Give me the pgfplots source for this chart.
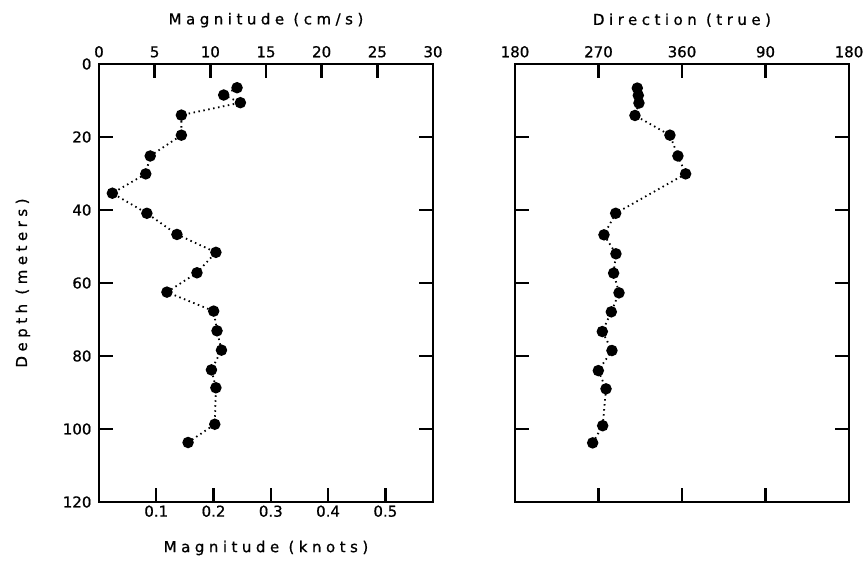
\documentclass[border=0pt]{standalone}
\usepackage{pgfplots}
\pgfplotsset{compat=1.18}
\usepackage{fontspec}
\setmainfont{DejaVu Sans}
\newfontfamily\labelfont{DejaVu Sans}[LetterSpace=30, FakeBold=0.8]
\newfontfamily\numfont{DejaVu Sans}[FakeBold=0.8]

% Current profile: depth (m) against speed (cm/s) and direction (deg true)
\pgfplotstableread{
depth  speed
6.5    12.4
8.5    11.2
10.6   12.7
14.0   7.4
19.5   7.4
25.2   4.6
30.1   4.2
35.4   1.2
40.9   4.3
46.7   7.0
51.6   10.5
57.2   8.8
62.5   6.1
67.7   10.3
73.1   10.6
78.4   11.0
83.8   10.1
88.7   10.5
98.7   10.4
103.7  8.0
}\speedtab

% direction beyond 360 is written as 360+deg so the profile stays continuous
\pgfplotstableread{
depth  dir
6.6    311.8
8.6    312.9
10.7   313.6
14.1   309.3
19.5   347.0
25.2   355.6
30.1   363.9
40.9   288.5
46.8   275.9
52.0   288.8
57.3   286.3
62.7   292.1
67.9   283.8
73.3   274.1
78.5   284.5
84.0   269.8
89.0   278.1
99.1   274.5
103.8  263.7
}\dirtab

\tikzset{heading/.style={font=\fontsize{15}{18}\selectfont\labelfont, anchor=center}}

\pgfplotsset{
  profile/.style={
    scale only axis, width=334pt, height=438pt,
    clip=false,
    ymin=0, ymax=120, y dir=reverse,
    ytick={0,20,...,120},
    tick align=inside,
    major tick length=14pt,
    axis line style={line width=2.8pt},
    every tick/.style={line width=2.4pt, black},
    /pgf/number format/assume math mode=true,
    tick label style={font=\fontsize{15}{18}\selectfont\numfont},
    yticklabel style={xshift=-4pt},
    label style={font=\fontsize{15}{18}\selectfont\labelfont},
  },
  obs/.style={
    black, line width=1.8pt, dash pattern=on 1.5pt off 3.5pt,
    mark=*, mark size=4.8pt, mark options={solid, fill=black},
  },
}

\begin{document}
\begin{tikzpicture}
\useasboundingbox (-99pt,-59pt) rectangle (767pt,502pt);

% speed in cm/s, labelled along the top
\begin{axis}[profile,
  xmin=0, xmax=30,
  xtick={0,5,...,30},
  xtick pos=upper, xticklabel pos=upper,
  xticklabel style={yshift=3pt},
  ytick pos=both, yticklabel pos=lower,
  ylabel={Depth (meters)},
  ylabel style={at={(axis description cs:-0.228,0.5)}, anchor=center},
]
\addplot[obs] table[x=speed, y=depth] {\speedtab};
\node[heading] at (axis description cs:0.5,1.1) {Magnitude (cm/s)};
\end{axis}

% the same speed scale in knots, along the bottom
\begin{axis}[profile,
  xmin=0, xmax=0.58317,
  xtick={0.1,0.2,0.3,0.4,0.5},
  xticklabels={0.1,0.2,0.3,0.4,0.5},
  xtick pos=lower, xticklabel pos=lower,
  ytick=\empty,
  xlabel={Magnitude (knots)},
  xlabel style={at={(axis description cs:0.5,-0.105)}, anchor=center},
]
\end{axis}

% direction, degrees true
\begin{axis}[profile, at={(416pt,0pt)},
  xmin=180, xmax=540,
  xtick={180,270,360,450,540},
  xticklabels={180,270,360,90,180},
  xtick pos=both, xticklabel pos=upper,
  xticklabel style={yshift=3pt},
  ytick pos=both, yticklabels={},
]
\addplot[obs] table[x=dir, y=depth] {\dirtab};
\node[heading] at (axis description cs:0.5,1.1) {Direction (true)};
\end{axis}
\end{tikzpicture}
\end{document}
